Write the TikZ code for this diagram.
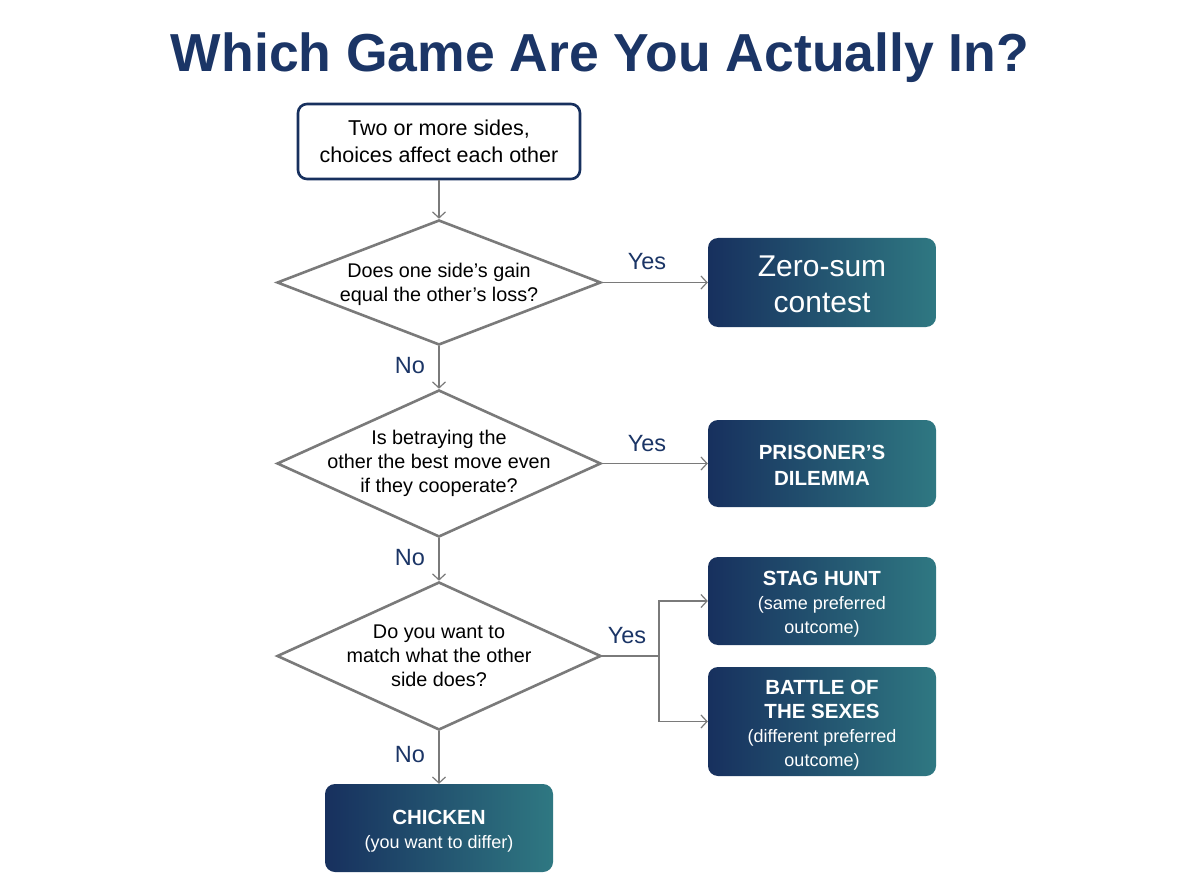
\documentclass[tikz,border=0pt]{standalone}
\usepackage{fontspec}
\setmainfont{Liberation Sans}
\usetikzlibrary{shapes.geometric,arrows.meta}
\definecolor{navy}{HTML}{17305E}
\definecolor{teal}{HTML}{2F7882}
\definecolor{labnavy}{HTML}{1B3566}
\definecolor{linegray}{HTML}{7A7A7A}
\newcommand{\boxhead}[1]{{\fontsize{20.5}{24}\selectfont\bfseries #1}}
\newcommand{\boxsub}[1]{{\fontsize{18}{24}\selectfont #1}}
\begin{document}
\begin{tikzpicture}[x=1pt,y=-1pt,
  startbox/.style={draw=navy,line width=2.6pt,rounded corners=9pt,fill=white,
    minimum width=282pt,minimum height=75pt,align=center,font=\fontsize{21.5}{27}\selectfont,text=black},
  dia/.style={draw=linegray,line width=2.6pt,shape=diamond,inner sep=0pt,fill=white,
    minimum width=324pt,minimum height=#1},
  dtext/.style={align=center,font=\fontsize{19.8}{24}\selectfont,text=black},
  result/.style={rounded corners=10pt,left color=navy,right color=teal,
    minimum width=228pt,inner sep=0pt},
  rtext/.style={text=white,align=center,inner sep=0pt,font=\fontsize{18}{24}\selectfont,yshift=-3pt},
  lab/.style={text=labnavy,font=\fontsize{23.5}{26}\selectfont},
  conn/.style={draw=linegray,line width=1.4pt,-{Straight Barb[length=6pt,width=13pt,line width=1.2pt]}},
  plain/.style={draw=linegray,line width=1.4pt}
]
\useasboundingbox (0,0) rectangle (1200,896);
\fill[white] (0,0) rectangle (1200,896);

\node[text=labnavy,font=\fontsize{53.5}{60}\selectfont\bfseries] (title) at (600,58) {Which Game Are You Actually In?};

\node[startbox] (start) at (439,141.5) {Two or more sides,\\choices affect each other};

\node[dia=125pt] (d1) at (439,282.5) {};
\node[dtext,yshift=-1.5pt] (t1) at (d1) {Does one side’s gain\\equal the other’s loss?};

\node[dia=147pt] (d2) at (439,463.5) {};
\node[dtext] (t2) at (d2) {Is betraying the\\other the best move even\\if they cooperate?};

\node[dia=148pt] (d3) at (439,656) {};
\node[dtext] (t3) at (d3) {Do you want to\\match what the other\\side does?};

\node[result,minimum height=89pt] (zs) at (822,282.5) {};
\node[rtext,font=\fontsize{30}{36}\selectfont,yshift=1pt] (zst) at (zs) {Zero-sum\\contest};
\node[result,minimum height=87pt] (pd) at (822,463.5) {};
\node[rtext,font=\fontsize{20.5}{26}\selectfont\bfseries,yshift=1pt] (pdt) at (pd) {PRISONER’S\\DILEMMA};
\node[result,minimum height=88pt] (sh) at (822,601) {};
\node[rtext] (sht) at (sh) {\boxhead{STAG HUNT}\\\boxsub{(same preferred}\\\boxsub{outcome)}};
\node[result,minimum height=109pt] (bs) at (822,721.5) {};
\node[rtext,yshift=-1pt] (bst) at (bs) {\boxhead{BATTLE OF}\\\boxhead{THE SEXES}\\\boxsub{(different preferred}\\\boxsub{outcome)}};
\node[result,minimum height=88pt] (ch) at (439,828) {};
\node[rtext] (cht) at (ch) {\boxhead{CHICKEN}\\\boxsub{(you want to differ)}};

\coordinate (split) at (659,656);

\draw[conn] (start.south) -- (d1.north);
\draw[conn] (d1.east) -- (zs.west);
\draw[conn] (d1.south) -- (d2.north);
\draw[conn] (d2.east) -- (pd.west);
\draw[conn] (d2.south) -- (d3.north);
\draw[plain] (d3.east) -- (split);
\draw[conn] (split) |- (sh.west);
\draw[conn] (split) |- (bs.west);
\draw[conn] (d3.south) -- (ch.north);

\node[lab] (y1) at (647,262) {Yes};
\node[lab] (n1) at (410,366) {No};
\node[lab] (y2) at (647,444) {Yes};
\node[lab] (n2) at (410,558) {No};
\node[lab] (y3) at (627,636) {Yes};
\node[lab] (n3) at (410,755) {No};
\end{tikzpicture}
\end{document}
